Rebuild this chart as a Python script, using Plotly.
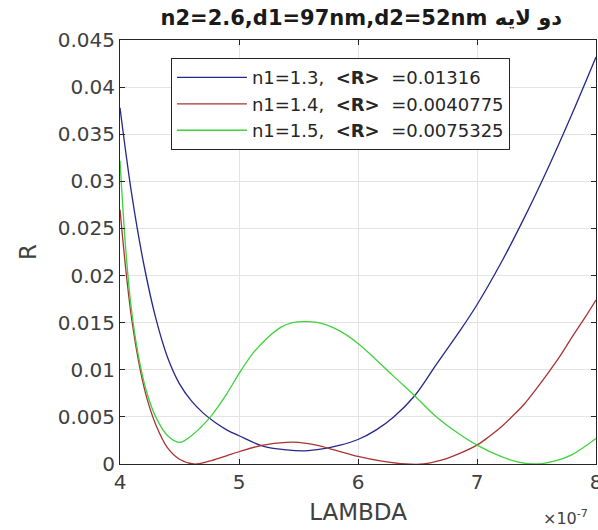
import plotly.graph_objects as go

# wavelength in units of 1e-7 m, R
lam_13 = [4.00, 4.10, 4.20, 4.30, 4.40, 4.50, 4.60, 4.70, 4.80, 4.90, 5.00, 5.20,
          5.40, 5.55, 5.70, 5.85, 6.00, 6.15, 6.30, 6.48, 6.66, 6.86, 7.00, 7.20,
          7.40, 7.60, 7.80, 8.00]
r_13 = [0.0378, 0.0285, 0.0212, 0.0155, 0.0113, 0.0085, 0.0067, 0.0054, 0.0044,
        0.0036, 0.0030, 0.0019, 0.0015, 0.0014, 0.0016, 0.0020, 0.0026, 0.0036,
        0.0050, 0.0073, 0.0106, 0.0142, 0.0169, 0.0213, 0.0262, 0.0315, 0.0372,
        0.0432]

lam_14 = [4.00, 4.05, 4.10, 4.17, 4.23, 4.30, 4.40, 4.50, 4.62, 4.75, 4.90, 5.00,
          5.20, 5.40, 5.50, 5.65, 5.80, 6.00, 6.20, 6.40, 6.55, 6.70, 6.85, 7.00,
          7.10, 7.20, 7.30, 7.40, 7.50, 7.60, 7.70, 7.80, 7.90, 8.00]
r_14 = [0.0270, 0.0205, 0.0152, 0.0100, 0.0068, 0.0042, 0.0017, 0.0005, 0.0000,
        0.0003, 0.0009, 0.0013, 0.0020, 0.0023, 0.0023, 0.0020, 0.0015, 0.0008,
        0.0003, 0.0000, 0.0000, 0.0004, 0.0011, 0.0020, 0.0029, 0.0039, 0.0051,
        0.0064, 0.0080, 0.0097, 0.0115, 0.0135, 0.0154, 0.0174]

lam_15 = [4.00, 4.05, 4.10, 4.17, 4.23, 4.30, 4.40, 4.50, 4.60, 4.76, 4.90, 5.00,
          5.12, 5.24, 5.35, 5.45, 5.57, 5.70, 5.85, 6.00, 6.15, 6.30, 6.48, 6.65,
          6.86, 7.00, 7.20, 7.35, 7.50, 7.65, 7.80, 8.00]
r_15 = [0.0322, 0.0225, 0.0160, 0.0105, 0.0074, 0.0050, 0.0030, 0.0023, 0.0030,
        0.0050, 0.0075, 0.0096, 0.0118, 0.0134, 0.0145, 0.0150, 0.0151, 0.0149,
        0.0141, 0.0128, 0.0111, 0.0093, 0.0072, 0.0051, 0.0031, 0.0020, 0.0008,
        0.0002, 0.0000, 0.0003, 0.0010, 0.0027]

names = ["n1=1.3,\u00a0\u00a0<b>&lt;R&gt;</b>\u00a0\u00a0=0.01316",
         "n1=1.4,\u00a0\u00a0<b>&lt;R&gt;</b>\u00a0\u00a0=0.0040775",
         "n1=1.5,\u00a0\u00a0<b>&lt;R&gt;</b>\u00a0\u00a0=0.0075325"]
colors = ["#27278a", "#a83434", "#3fd23f"]

x_ticks = [4, 5, 6, 7, 8]
y_ticks = [0, 0.005, 0.01, 0.015, 0.02, 0.025, 0.03, 0.035, 0.04, 0.045]
y_labels = ["0", "0.005", "0.01", "0.015", "0.02", "0.025", "0.03", "0.035", "0.04", "0.045"]

FONT = "DejaVu Sans, Arial, sans-serif"

fig = go.Figure()
for lam, r, nm, c in zip([lam_13, lam_14, lam_15], [r_13, r_14, r_15], names, colors):
    fig.add_trace(go.Scatter(x=lam, y=r, mode="lines", name=nm,
                             line=dict(color=c, width=1.3, shape="spline", smoothing=1.0)))

axis_common = dict(showline=True, linecolor="#262626", linewidth=1, mirror="ticks",
                   ticks="inside", ticklen=5, tickcolor="#262626",
                   showgrid=True, gridcolor="#e3e3e3", gridwidth=1, zeroline=False,
                   ticklabeloverflow="allow", automargin=False,
                   tickfont=dict(family=FONT, size=20, color="#404040"))

fig.update_layout(
    width=598, height=530,
    margin=dict(l=120, r=2, t=40, b=66),
    paper_bgcolor="white", plot_bgcolor="white",
    title=dict(text="<b>n2=2.6,d1=97nm,d2=52nm دو لایه</b>",
               x=0.507, xref="paper", xanchor="center",
               y=0.966, yref="container", yanchor="middle",
               font=dict(family=FONT, size=21, color="#1a1a1a")),
    xaxis=dict(range=[4, 8], tickvals=x_ticks, ticktext=[str(v) for v in x_ticks],
               title=dict(text="LAMBDA", standoff=10,
                          font=dict(family=FONT, size=23, color="#404040")),
               **axis_common),
    yaxis=dict(range=[0, 0.045], tickvals=y_ticks, ticktext=y_labels,
               title=dict(text="R", standoff=14,
                          font=dict(family=FONT, size=23, color="#404040")),
               **axis_common),
    legend=dict(x=0.107, y=0.957, xanchor="left", yanchor="top",
                bgcolor="white", bordercolor="#262626", borderwidth=1,
                font=dict(family=FONT, size=18, color="#262626"),
                itemwidth=70, tracegroupgap=0),
    showlegend=True,
)

fig.add_annotation(text="\u00d710<sup>-7</sup>", xref="paper", yref="paper",
                   x=0.935, y=-0.125, xanchor="center", yanchor="middle",
                   showarrow=False, font=dict(family=FONT, size=16, color="#404040"))

fig.write_html("out.html", config={"displayModeBar": False},
               post_script="document.body.style.margin='0px';")
